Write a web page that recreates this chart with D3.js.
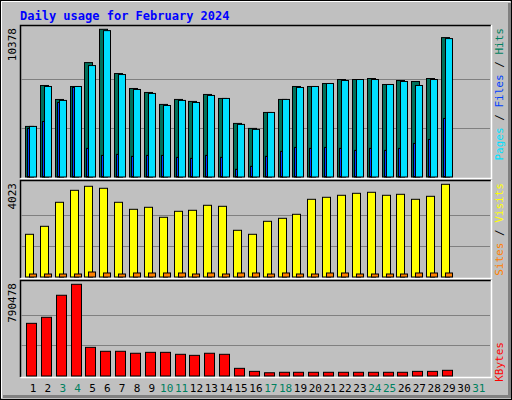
<!DOCTYPE html>
<html>
<head>
<meta charset="utf-8">
<script src="https://cdn.jsdelivr.net/npm/d3@7.9.0/dist/d3.min.js"></script>
<style>
  body { margin: 0; background: #fff; }
  text { font-family: "DejaVu Sans Mono", monospace; }
</style>
</head>
<body>
<svg id="chart" width="512" height="400"></svg>
<script>
// data
const days = d3.range(1, 32);
const weekends = [3, 4, 10, 11, 17, 18, 24, 25, 31];
const hits = [3554, 6430, 5448, 6360, 8040, 10378, 7270, 6220, 5940, 5100, 5450, 5310, 5800, 5520, 3765, 3415,
  4535, 5450, 6360, 6360, 6570, 6850, 6850, 6920, 6500, 6780, 6710, 6920, 9795];
const files = [3554, 6360, 5380, 6360, 7830, 10285, 7200, 6150, 5870, 5025, 5380, 5235, 5730, 5520, 3695, 3345,
  4535, 5450, 6290, 6360, 6570, 6780, 6850, 6850, 6500, 6710, 6430, 6850, 9725];
const pages = [3415, 3900, 5235, 6290, 2010, 1520, 1590, 1450, 1520, 1520, 1380, 1310, 1520, 1380, 540, 750,
  1450, 1800, 2080, 2010, 2080, 2010, 1870, 2010, 1870, 2010, 2360, 2640, 4115];
const visits = [1853, 2200, 3242, 3762, 3937, 3850, 3242, 2938, 3025, 2591, 2851, 2895, 3112, 3068, 2027, 1853,
  2417, 2547, 2721, 3372, 3459, 3546, 3632, 3676, 3546, 3589, 3372, 3502, 4023];
const sites = [130, 130, 130, 130, 217, 174, 130, 174, 174, 174, 174, 130, 174, 130, 174, 174,
  130, 174, 130, 130, 174, 174, 130, 130, 130, 130, 174, 174, 174];
const kbytes = [454000, 506000, 696000, 790478, 247000, 213000, 213000, 196000, 204000, 204000, 187000, 178000,
  196000, 187000, 66000, 40000, 28000, 32000, 32000, 32000, 32000, 32000, 32000, 32000, 32000, 32000,
  40000, 40000, 49000];

const svg = d3.select("#chart");

// outer frame
svg.append("rect").attr("x", 0).attr("y", 0).attr("width", 512).attr("height", 400).attr("fill", "#c0c0c0");
svg.append("rect").attr("x", 0.5).attr("y", 0.5).attr("width", 511).attr("height", 399)
  .attr("fill", "none").attr("stroke", "#000");
svg.append("path").attr("d", "M1.5,398V1.5H510").attr("fill", "none").attr("stroke", "#fff").attr("stroke-width", 1);
svg.append("path").attr("d", "M509.5,3V396.5H3").attr("fill", "none").attr("stroke", "#808080").attr("stroke-width", 3);

svg.append("text").attr("x", 20).attr("y", 20).attr("fill", "#0000ff")
  .attr("font-size", 12).attr("font-weight", "bold").text("Daily usage for February 2024");

const x = d3.scaleLinear().domain([1, 32]).range([25, 25 + 31 * 14.86]);

const panels = [
  { top: 25, bottom: 178, barTop: 29.3, max: d3.max(hits), label: d3.max(hits) },
  { top: 180, bottom: 278, barTop: 184.3, max: d3.max(visits), label: d3.max(visits) },
  { top: 280, bottom: 377, barTop: 284.3, max: d3.max(kbytes), label: d3.max(kbytes) }
];

panels.forEach(p => {
  p.y = d3.scaleLinear().domain([0, p.max]).range([p.bottom - 1, p.barTop]);
  svg.append("path").attr("d", `M20.5,${p.bottom}V${p.top + 0.5}H491`).attr("fill", "none").attr("stroke", "#000").attr("stroke-width", 1.5);
  svg.append("path").attr("d", `M20.5,${p.bottom + 0.5}H491.5V${p.top}`).attr("fill", "none").attr("stroke", "#fff").attr("stroke-width", 1.5);
  [1, 2].forEach(k => {
    const gy = Math.round(p.y(p.max * k / 3)) + 0.5;
    svg.append("line").attr("x1", 21).attr("x2", 490).attr("y1", gy).attr("y2", gy)
      .attr("stroke", "#808080").attr("stroke-width", 1);
  });
  svg.append("text").attr("transform", `translate(16,${p.top + 3}) rotate(-90)`)
    .attr("text-anchor", "end").attr("font-size", 11).attr("fill", "#000").text(p.label);
});

function bars(data, panel, dx, w, color) {
  svg.append("g").selectAll("rect").data(data).join("rect")
    .attr("x", (d, i) => Math.round(x(i + 1)) + dx + 0.5)
    .attr("y", d => panel.y(d))
    .attr("width", w)
    .attr("height", d => panel.y(0) - panel.y(d))
    .attr("fill", color).attr("stroke", "#000").attr("stroke-width", 1);
}

bars(hits, panels[0], 0, 8, "#00705a");
bars(files, panels[0], 4, 7, "#00e0ff");
bars(pages, panels[0], 2, 2, "#0040ff");
bars(visits, panels[1], 0, 8, "#ffff00");
bars(sites, panels[1], 4, 7, "#ff8000");
bars(kbytes, panels[2], 1, 10, "#ff0000");

// day labels
svg.append("g").selectAll("text").data(days).join("text")
  .attr("x", d => x(d) + 8).attr("y", 392).attr("text-anchor", "middle").attr("font-size", 11)
  .attr("fill", d => weekends.includes(d) ? "#00805f" : "#000").text(d => d);

// right side legends
function legend(parts, yStart) {
  const t = svg.append("text").attr("transform", `translate(503,${yStart}) rotate(-90)`)
    .attr("font-size", 11).attr("text-anchor", "end");
  parts.forEach(([s, c]) => t.append("tspan").attr("fill", c).text(s));
}
legend([["Pages", "#00e0ff"], [" / ", "#000"], ["Files", "#0040ff"], [" / ", "#000"], ["Hits", "#00805f"]], 28);
legend([["Sites", "#ff8000"], [" / ", "#000"], ["Visits", "#ffff00"]], 183);
legend([["KBytes", "#ff0000"]], 342);
</script>
</body>
</html>
